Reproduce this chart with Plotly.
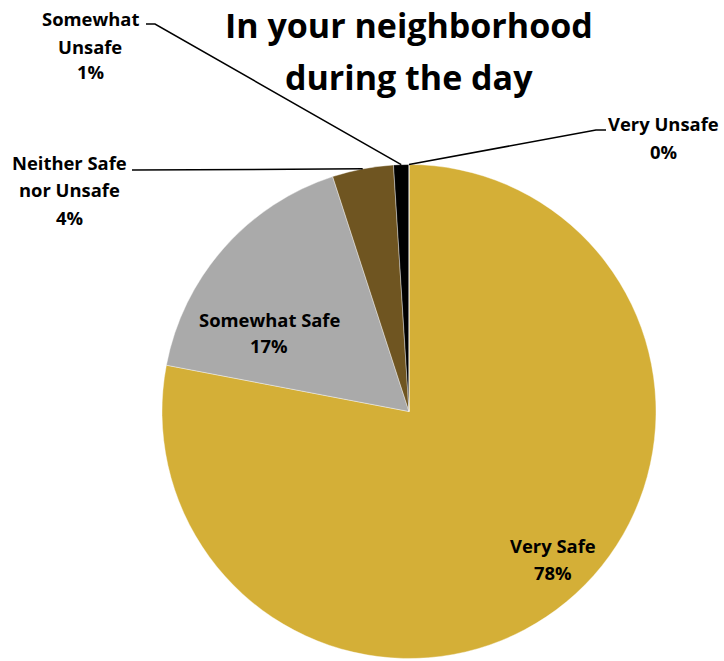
import math
import plotly.graph_objects as go

# Survey responses: perceived safety in the neighborhood during the day
categories = ["Very Safe", "Somewhat Safe", "Neither Safe nor Unsafe",
              "Somewhat Unsafe", "Very Unsafe"]
values = [78, 17, 4, 1, 0]
colors = ["#D4AF37", "#AAAAAA", "#6F5521", "#000000", "#7F7F7F"]
title_lines = ["In your neighborhood", "during the day"]

W, H = 724, 661
CX, CY, R = 409, 411.5, 247  # pie centre and radius (px)
FONT = "'Open Sans', sans-serif"


def px_to_paper(x, y):
    return x / W, 1 - y / H


total = sum(values)
pcts = [f"{round(v / total * 100)}%" for v in values]


def slice_edge_point(i):
    """Point on the rim at the middle of slice i (clockwise from 12 o'clock)."""
    before = sum(values[:i])
    a = (before + values[i] / 2) / total * 2 * math.pi
    return CX + R * math.sin(a), CY - R * math.cos(a)


fig = go.Figure(go.Pie(
    labels=categories, values=values, sort=False, direction="clockwise",
    rotation=0, textinfo="none", hoverinfo="label+percent",
    marker=dict(colors=colors, line=dict(color="white", width=0.4)),
    domain=dict(x=[(CX - R) / W, (CX + R) / W],
                y=[1 - (CY + R) / H, 1 - (CY - R) / H]),
    showlegend=False,
))

annotations = []


def add_text(lines, x, ys, size=18.4):
    for line, y in zip(lines, ys):
        xp, yp = px_to_paper(x, y)
        annotations.append(dict(
            x=xp, y=yp, xref="paper", yref="paper", text=f"<b>{line}</b>",
            showarrow=False, xanchor="center", yanchor="middle",
            font=dict(family=FONT, size=size, color="black")))


# Data labels: category name plus share
label_layout = {
    0: (["Very Safe"], 553, [545, 572]),
    1: (["Somewhat Safe"], 269, [319, 345]),
    2: (["Neither Safe", "nor Unsafe"], 69, [163, 190, 217]),
    3: (["Somewhat", "Unsafe"], 90, [19, 46, 72]),
    4: (["Very Unsafe"], 663, [123, 151]),
}
for i, (name_lines, x, ys) in label_layout.items():
    add_text(name_lines + [pcts[i]], x, ys)

# Title
for line, y in zip(title_lines, [25, 77]):
    xp, yp = px_to_paper(CX, y)
    annotations.append(dict(
        x=xp, y=yp, xref="paper", yref="paper", text=f"<b>{line}</b>",
        showarrow=False, xanchor="center", yanchor="middle",
        font=dict(family=FONT, size=34, color="black")))

# Leader lines from the outside labels to their slices
leader_starts = {
    2: [(132, 170)],
    3: [(146, 24), (155, 24)],
    4: [(606, 130), (596, 130)],
}
shapes = []
for i, pts in leader_starts.items():
    pts = pts + [slice_edge_point(i)]
    path = " ".join(("M" if k == 0 else "L") + f"{px_to_paper(*p)[0]:.5f},{px_to_paper(*p)[1]:.5f}"
                    for k, p in enumerate(pts))
    shapes.append(dict(type="path", path=path, xref="paper", yref="paper",
                       line=dict(color="black", width=1.5)))

fig.update_layout(
    width=W, height=H, margin=dict(l=0, r=0, t=0, b=0),
    paper_bgcolor="white", plot_bgcolor="white",
    annotations=annotations, shapes=shapes,
)

fig.write_html("out.html")
